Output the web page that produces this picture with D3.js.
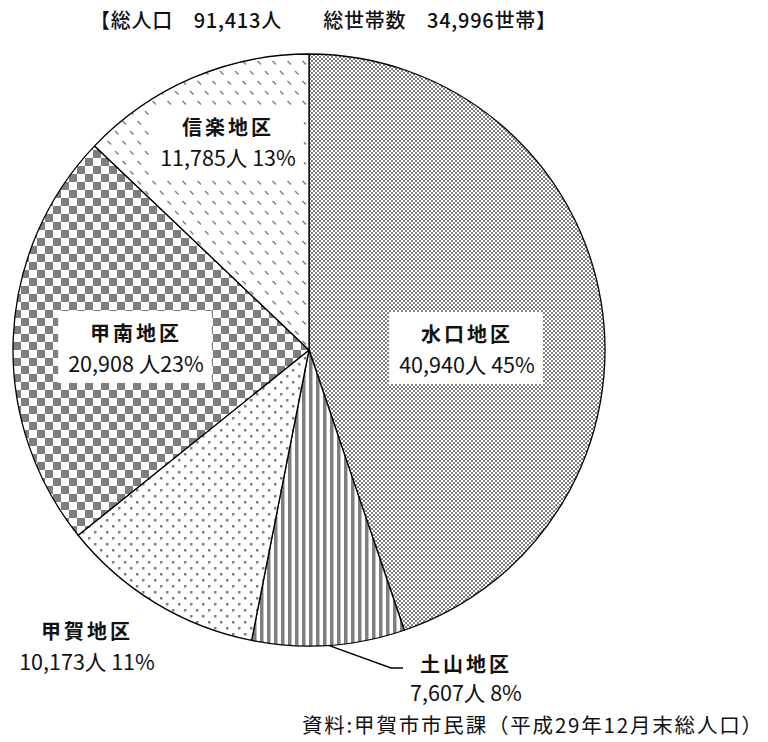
<!DOCTYPE html>
<html lang="ja">
<head>
<meta charset="UTF-8">
<title>地区別人口</title>
<script src="https://cdnjs.cloudflare.com/ajax/libs/d3/7.8.5/d3.min.js"></script>
<style>
  body { margin: 0; background: #fff; }
  svg text { font-family: "Noto Sans CJK JP", "Noto Sans", sans-serif; fill: #111; }
</style>
</head>
<body>
<svg width="768" height="742"></svg>
<script>
"use strict";

// data
const districts = ["水口地区", "土山地区", "甲賀地区", "甲南地区", "信楽地区"];
const population = [40940, 7607, 10173, 20908, 11785];
const valueLabels = ["40,940人 45%", "7,607人 8%", "10,173人 11%", "20,908 人23%", "11,785人 13%"];
const titleText = "【総人口　91,413人　　総世帯数　34,996世帯】";
const sourceText = "資料:甲賀市市民課（平成29年12月末総人口）";

// label layout (centre x, first baseline y, line gap) and whether a white box sits behind
const labelPos = [[467, 342, 31], [466, 672, 29], [87, 639, 31], [136, 341, 31], [228, 135, 31]];
const labelBox = [true, false, false, true, true];

const svg = d3.select("svg");
const cx = 309, cy = 350, radius = 296;
const grey = "#7f7f7f";

const defs = svg.append("defs");

function pattern(id, w, h, draw) {
    const p = defs.append("pattern")
        .attr("id", id)
        .attr("patternUnits", "userSpaceOnUse")
        .attr("width", w)
        .attr("height", h);
    p.append("rect").attr("width", w).attr("height", h).attr("fill", "#fff");
    draw(p);
}

// 水口: fine checker
pattern("p0", 4, 4, p => {
    p.append("rect").attr("x", 0).attr("y", 0).attr("width", 2).attr("height", 2).attr("fill", grey);
    p.append("rect").attr("x", 2).attr("y", 2).attr("width", 2).attr("height", 2).attr("fill", grey);
});
// 土山: vertical stripes
pattern("p1", 7, 7, p => {
    p.append("rect").attr("x", 0).attr("y", 0).attr("width", 3.5).attr("height", 7).attr("fill", grey);
});
// 甲賀: sparse dots
pattern("p2", 12, 12, p => {
    p.append("rect").attr("x", 1).attr("y", 1).attr("width", 2.5).attr("height", 2.5).attr("fill", grey);
    p.append("rect").attr("x", 7).attr("y", 7).attr("width", 2.5).attr("height", 2.5).attr("fill", grey);
});
// 甲南: large checker
pattern("p3", 16, 16, p => {
    p.append("rect").attr("x", 0).attr("y", 0).attr("width", 8).attr("height", 8).attr("fill", grey);
    p.append("rect").attr("x", 8).attr("y", 8).attr("width", 8).attr("height", 8).attr("fill", grey);
});
// 信楽: small diagonal dashes
pattern("p4", 15, 20, p => {
    p.append("line").attr("x1", 1).attr("y1", 1).attr("x2", 4.5).attr("y2", 4.5)
        .attr("stroke", grey).attr("stroke-width", 1.4);
    p.append("line").attr("x1", 8.5).attr("y1", 11).attr("x2", 12).attr("y2", 14.5)
        .attr("stroke", grey).attr("stroke-width", 1.4);
});

const pie = d3.pie().sort(null).value(d => d)(population);
const arc = d3.arc().innerRadius(0).outerRadius(radius);

const g = svg.append("g").attr("transform", `translate(${cx},${cy})`);

g.selectAll("path.slice")
    .data(pie)
    .enter()
    .append("path")
    .attr("class", "slice")
    .attr("d", arc)
    .attr("fill", (d, i) => `url(#p${i})`)
    .attr("stroke", "#000")
    .attr("stroke-width", 1.3)
    .attr("stroke-linejoin", "round");

// leader line for 土山
const s1 = pie[1];
const mid = (s1.startAngle + s1.endAngle) / 2;
const lx0 = Math.sin(mid) * radius, ly0 = -Math.cos(mid) * radius;
const lab1 = labelPos[1];
svg.append("polyline")
    .attr("points", `${cx + lx0},${cy + ly0} ${lab1[0] - 75},${lab1[1] - 4} ${lab1[0] - 63},${lab1[1] - 4}`)
    .attr("fill", "none")
    .attr("stroke", "#000")
    .attr("stroke-width", 1.5);

// labels
const labels = svg.selectAll("g.label")
    .data(districts)
    .enter()
    .append("g")
    .attr("class", "label");

labels.each(function (d, i) {
    const lg = d3.select(this);
    const [x, y, gap] = labelPos[i];
    const t1 = lg.append("text")
        .attr("x", x).attr("y", y)
        .attr("text-anchor", "middle")
        .attr("font-size", 20)
        .attr("font-weight", 700)
        .attr("letter-spacing", 3)
        .text(d);
    const t2 = lg.append("text")
        .attr("x", x).attr("y", y + gap)
        .attr("text-anchor", "middle")
        .attr("font-size", 21.5)
        .text(valueLabels[i]);
    if (labelBox[i]) {
        const b1 = t1.node().getBBox(), b2 = t2.node().getBBox();
        const x0 = Math.min(b1.x, b2.x) - 10, x1 = Math.max(b1.x + b1.width, b2.x + b2.width) + 8;
        lg.insert("rect", "text")
            .attr("x", x0).attr("y", b1.y - 7)
            .attr("width", x1 - x0)
            .attr("height", b2.y + b2.height - b1.y + 12)
            .attr("fill", "#fff");
    }
});

// title
svg.append("text")
    .attr("x", 90).attr("y", 28)
    .attr("font-size", 20)
    .attr("font-weight", 500)
    .attr("textLength", 466)
    .attr("lengthAdjust", "spacing")
    .text(titleText);

// source
svg.append("text")
    .attr("x", 302).attr("y", 733)
    .attr("font-size", 20.5)
    .attr("textLength", 460)
    .attr("lengthAdjust", "spacing")
    .text(sourceText);
</script>
</body>
</html>
